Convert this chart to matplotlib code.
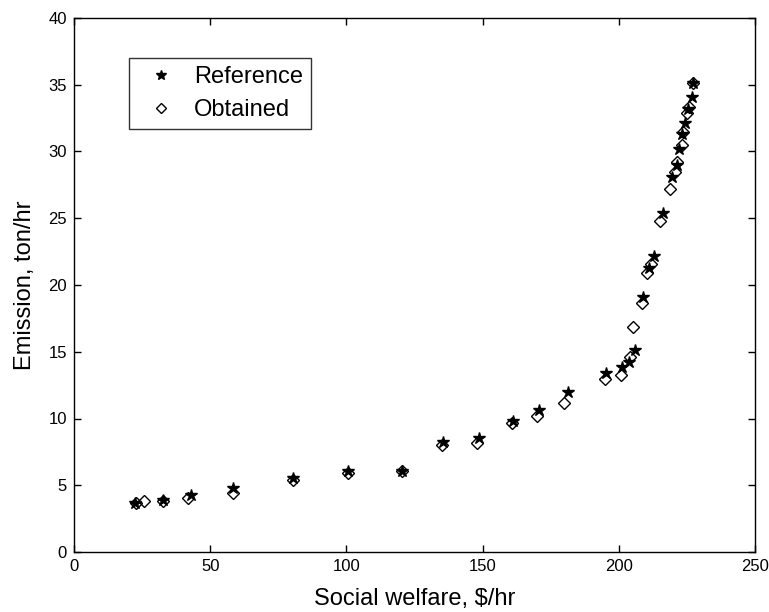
import matplotlib
matplotlib.use("Agg")
import matplotlib.pyplot as plt

plt.rcParams['font.family'] = ['Liberation Sans', 'DejaVu Sans']

ref_x = [22.4, 32.8, 42.8, 58.5, 80.5, 100.5, 120.3, 135.3, 148.8, 161.0, 170.8, 181.2,
         195.4, 201.0, 203.9, 206.0, 209.0, 211.2, 212.9, 216.3, 219.4, 221.2, 222.2,
         223.3, 224.3, 225.5, 226.7, 227.1]
ref_y = [3.69, 3.90, 4.27, 4.77, 5.57, 6.07, 6.09, 8.26, 8.51, 9.84, 10.64, 12.01,
         13.40, 13.88, 14.20, 15.15, 19.08, 21.25, 22.17, 25.42, 28.10, 29.00, 30.16,
         31.30, 32.16, 33.16, 34.06, 35.15]

obt_x = [22.8, 25.7, 32.8, 42.0, 58.5, 80.3, 100.5, 120.3, 135.0, 148.1, 160.8, 170.1,
         180.0, 195.0, 200.7, 204.0, 205.2, 208.4, 210.5, 211.8, 215.1, 218.8, 220.5,
         221.2, 223.1, 223.4, 224.9, 225.8, 227.1]
obt_y = [3.70, 3.84, 3.85, 4.02, 4.44, 5.37, 5.90, 6.05, 8.01, 8.14, 9.64, 10.21,
         11.14, 12.98, 13.26, 14.60, 16.83, 18.63, 20.88, 21.60, 24.82, 27.20, 28.50,
         29.24, 30.49, 31.49, 32.90, 33.30, 35.15]

x_ticks = [0, 50, 100, 150, 200, 250]
y_ticks = [0, 5, 10, 15, 20, 25, 30, 35, 40]

fig = plt.figure(figsize=(7.69, 6.12), dpi=100)
ax = fig.add_axes([74/769, 60/612, (755-74)/769, (552-18)/612])

ax.plot(ref_x, ref_y, linestyle='none', marker='*', markersize=9, color='black',
        label='Reference')
ax.plot(obt_x, obt_y, linestyle='none', marker='D', markersize=6,
        markerfacecolor='none', markeredgecolor='black', markeredgewidth=1.0,
        label='Obtained')

ax.set_xlim(0, 250)
ax.set_ylim(0, 40)
ax.set_xticks(x_ticks)
ax.set_yticks(y_ticks)
ax.tick_params(direction='in', length=5, width=1, top=True, right=True,
               labelsize=12, pad=5)
for s in ax.spines.values():
    s.set_linewidth(1.0)

ax.set_xlabel('Social welfare, $/hr', fontsize=17, labelpad=10)
ax.set_ylabel('Emission, ton/hr', fontsize=17, labelpad=9)

leg = ax.legend(loc='upper left', bbox_to_anchor=((129-74)/681, 1-(58-18)/534),
                fontsize=17, frameon=True, fancybox=False, edgecolor='black',
                handlelength=2.0, handletextpad=0.4, borderpad=0.35,
                labelspacing=0.45, markerscale=0.85, borderaxespad=0)
leg.get_frame().set_linewidth(1.0)

fig.savefig('out.png', dpi=100)
